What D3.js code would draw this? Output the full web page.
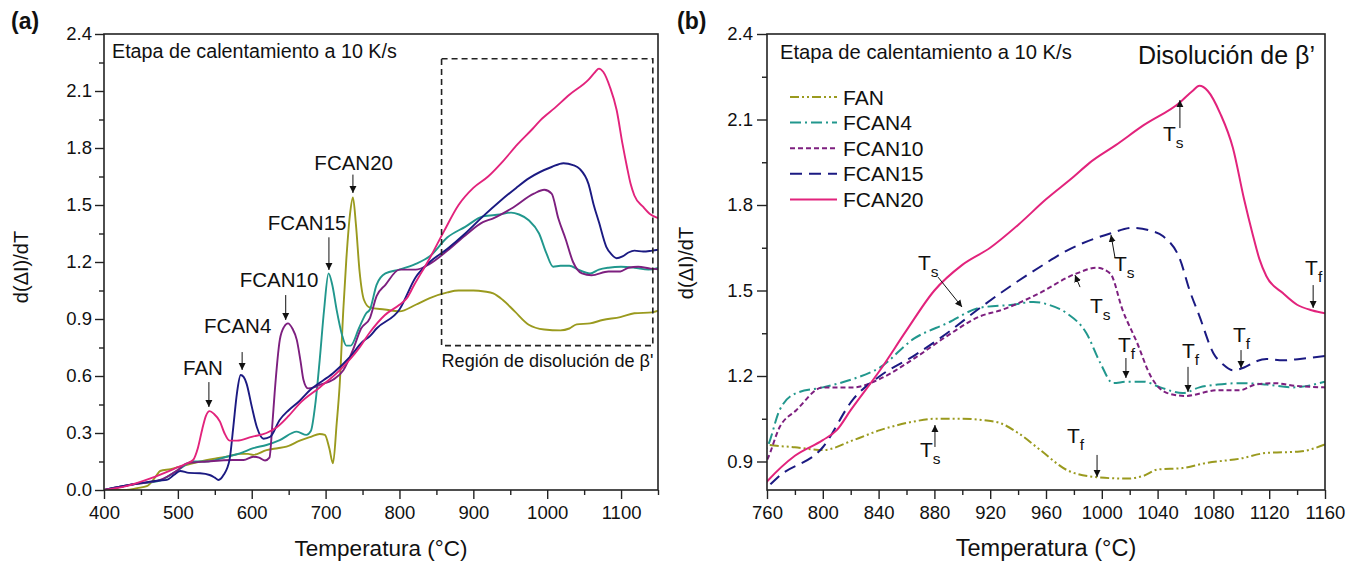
<!DOCTYPE html>
<html><head><meta charset="utf-8">
<script src="https://cdn.jsdelivr.net/npm/d3@7"></script>
<style>
body{margin:0;background:#fff}
svg{display:block}
text{font-family:"Liberation Sans",Arial,sans-serif;fill:#111}
</style>
</head><body>
<svg id="c" width="1358" height="562"></svg>
<script>
// ---------- data (temperature °C, d(ΔI)/dT) ----------
const FAN = [[400,0],[430,0],[445,0.01],[458,0.02],[470,0.07],[476,0.10],[490,0.11],[500,0.12],[515,0.135],[530,0.15],[550,0.165],[566,0.175],[584,0.19],[595,0.19],[602,0.185],[620,0.21],[635,0.22],[647,0.228],[665,0.26],[680,0.28],[692,0.295],[699,0.29],[705,0.22],[710,0.14],[715,0.35],[719,0.55],[724,0.95],[728,1.21],[733,1.45],[737,1.54],[741,1.40],[746,1.15],[752,1.0],[760,0.96],[780,0.95],[800,0.94],[822,0.975],[841,1.01],[865,1.04],[880,1.05],[900,1.05],[915,1.045],[927,1.035],[940,1.0],[956,0.94],[975,0.87],[996,0.845],[1018,0.84],[1030,0.85],[1040,0.872],[1058,0.877],[1075,0.895],[1099,0.91],[1118,0.93],[1142,0.935],[1160,0.96]];
const FCAN4 = [[400,0],[440,0.03],[476,0.05],[500,0.105],[521,0.15],[539,0.15],[566,0.175],[584,0.193],[602,0.22],[620,0.237],[638,0.263],[661,0.307],[674,0.29],[680,0.31],[686,0.45],[692,0.684],[698,0.95],[704,1.14],[709,1.08],[715,0.947],[722,0.82],[728,0.76],[734,0.76],[745,0.85],[755,0.93],[760,0.95],[769,1.08],[781,1.14],[800,1.16],[822,1.19],[841,1.23],[865,1.33],[889,1.385],[913,1.44],[936,1.45],[951,1.46],[962,1.45],[975,1.42],[989,1.35],[999,1.245],[1008,1.175],[1018,1.18],[1030,1.18],[1042,1.16],[1058,1.14],[1070,1.16],[1083,1.17],[1100,1.175],[1118,1.17],[1137,1.16],[1160,1.18]];
const FCAN10 = [[400,0],[440,0.03],[476,0.053],[500,0.105],[512,0.14],[539,0.15],[575,0.158],[589,0.158],[602,0.175],[610,0.17],[618,0.155],[624,0.17],[628,0.35],[631,0.51],[638,0.79],[644,0.86],[649,0.877],[655,0.85],[661,0.79],[666,0.68],[670,0.58],[676,0.535],[684,0.54],[692,0.553],[710,0.58],[724,0.63],[737,0.737],[748,0.85],[760,0.905],[769,1.02],[781,1.08],[800,1.16],[822,1.16],[841,1.19],[865,1.26],[889,1.34],[913,1.41],[927,1.43],[951,1.48],[982,1.56],[996,1.58],[1006,1.56],[1015,1.43],[1025,1.32],[1035,1.20],[1047,1.14],[1060,1.13],[1083,1.15],[1099,1.15],[1110,1.17],[1123,1.175],[1140,1.165],[1160,1.16]];
const FCAN15 = [[400,0],[440,0.03],[462,0.044],[475,0.05],[485,0.053],[495,0.08],[503,0.10],[515,0.09],[530,0.088],[543,0.079],[550,0.065],[555,0.053],[562,0.08],[570,0.16],[575,0.33],[580,0.51],[585,0.605],[589,0.595],[593,0.56],[600,0.44],[607,0.33],[616,0.27],[625,0.28],[638,0.37],[650,0.42],[665,0.47],[679,0.526],[710,0.614],[733,0.70],[750,0.78],[760,0.81],[769,0.85],[800,0.95],[822,1.12],[841,1.20],[865,1.27],[889,1.35],[913,1.44],[936,1.52],[958,1.59],[975,1.64],[1006,1.70],[1022,1.72],[1035,1.71],[1044,1.69],[1056,1.61],[1063,1.50],[1070,1.41],[1080,1.28],[1087,1.24],[1094,1.22],[1102,1.23],[1110,1.25],[1118,1.26],[1130,1.255],[1142,1.26],[1160,1.27]];
const FCAN20 = [[400,0],[430,0.02],[462,0.06],[500,0.12],[515,0.145],[521,0.16],[527,0.22],[533,0.32],[538,0.39],[543,0.415],[549,0.40],[557,0.36],[563,0.30],[570,0.26],[580,0.26],[600,0.28],[620,0.30],[634,0.33],[650,0.39],[665,0.456],[692,0.54],[719,0.63],[746,0.75],[760,0.83],[780,0.92],[800,0.975],[810,1.01],[820,1.08],[841,1.22],[860,1.36],[880,1.50],[900,1.59],[920,1.65],[940,1.73],[960,1.82],[980,1.90],[991,1.947],[1010,2.01],[1030,2.08],[1056,2.16],[1065,2.2],[1070,2.218],[1076,2.20],[1085,2.12],[1094,2.00],[1102,1.82],[1108,1.70],[1113,1.61],[1118,1.55],[1130,1.49],[1140,1.45],[1151,1.43],[1160,1.42]];

const seriesNames = ["FAN","FCAN4","FCAN10","FCAN15","FCAN20"];
const seriesData = [FAN, FCAN4, FCAN10, FCAN15, FCAN20];
const seriesColors = ["#9a9a1e","#21978d","#7d1f7f","#1b1a82","#e2237c"];
const seriesDash = ["9,3,2,3,2,3","11,4,2,4","5,3","12,7",null];

const xTicksA = [400,500,600,700,800,900,1000,1100];
const xMinorA = [450,550,650,750,850,950,1050,1150];
const yTicksA = [0,0.3,0.6,0.9,1.2,1.5,1.8,2.1,2.4];
const yMinorA = [0.15,0.45,0.75,1.05,1.35,1.65,1.95,2.25];
const xTicksB = [760,800,840,880,920,960,1000,1040,1080,1120,1160];
const xMinorB = [780,820,860,900,940,980,1020,1060,1100,1140];
const yTicksB = [0.9,1.2,1.5,1.8,2.1,2.4];
const yMinorB = [1.05,1.35,1.65,1.95,2.25];

// peak labels of panel (a): text pos (T,v) and arrow (T, v1 -> v2)
const peakLabels = ["FAN","FCAN4","FCAN10","FCAN15","FCAN20"];
const peakText = [[534,0.605],[581,0.826],[637,1.068],[675,1.368],[738,1.684]];
const peakArrow = [[542,0.568,0.437],[587,0.726,0.632],[646,1.026,0.895],[704.5,1.33,1.158],[737,1.66,1.563]];
const regionBox = [857,1143,0.76,2.27];

// Ts / Tf labels of panel (b)
const tSubs = ["s","s","s","s","s","f","f","f","f","f"];
const tText = [[1043.9,2.025],[1008.7,1.568],[868.2,1.572],[991.5,1.421],[869.7,0.916],[1145.7,1.554],[1094,1.319],[1057.5,1.263],[1011.6,1.284],[975,0.965]];
const tArrows = [[1056,2.07,1056,2.168],[1009.5,1.614,1006.6,1.695],[882.6,1.547,899.8,1.442],[984.4,1.512,980.8,1.554],[880.4,0.951,880.4,1.028],[1151.5,1.519,1151.5,1.439],[1099.8,1.291,1099.8,1.228],[1061.8,1.232,1061.8,1.144],[1017.3,1.263,1017.3,1.193],[996.6,0.923,996.6,0.846]];

// ---------- drawing ----------
const svg = d3.select("#c");
const defs = svg.append("defs");
defs.append("marker").attr("id","ah").attr("viewBox","0 0 10 10").attr("refX",10).attr("refY",5)
  .attr("markerWidth",7).attr("markerHeight",8).attr("markerUnits","userSpaceOnUse").attr("orient","auto")
  .append("path").attr("d","M0,0 L10,5 L0,10 Z").attr("fill","#111");

const xa = d3.scaleLinear().domain([400,1150]).range([104,658]);
const ya = d3.scaleLinear().domain([0,2.4]).range([490,34]);
const xb = d3.scaleLinear().domain([760,1160]).range([767,1325]);
const yb = d3.scaleLinear().domain([0.8,2.4]).range([490,34]);

function fit(sel, target){
  const w = sel.node().getComputedTextLength();
  const fs = parseFloat(sel.attr("font-size"));
  sel.attr("font-size", (fs*target/w).toFixed(2));
  return sel;
}

function axes(x, y, xMaj, xMin, yMaj, yMin, yTick, yPad, id){
  const g = svg.append("g");
  const y0 = y.range()[0], x0 = x.range()[0];
  g.append("g").attr("transform",`translate(0,${y0})`).call(d3.axisBottom(x).tickValues(xMin).tickSize(5).tickFormat("").tickSizeOuter(0));
  g.append("g").attr("transform",`translate(0,${y0})`).call(d3.axisBottom(x).tickValues(xMaj).tickSize(9).tickPadding(7).tickFormat(d3.format("d")).tickSizeOuter(0));
  g.append("g").attr("transform",`translate(${x0},0)`).call(d3.axisLeft(y).tickValues(yMin).tickSize(5).tickFormat("").tickSizeOuter(0));
  g.append("g").attr("transform",`translate(${x0},0)`).call(d3.axisLeft(y).tickValues(yMaj).tickSize(yTick).tickPadding(yPad).tickFormat(d3.format(".1f")).tickSizeOuter(0));
  g.selectAll(".domain").remove();
  g.selectAll(".tick line").attr("stroke","#222").attr("stroke-width",1.4);
  g.selectAll(".tick text").attr("font-size",18.5).attr("font-family","Liberation Sans, Arial, sans-serif").attr("fill","#111");
  const [xl,xr] = x.range(), [yb0,yt] = y.range();
  defs.append("clipPath").attr("id",id).append("rect").attr("x",xl).attr("y",yt).attr("width",xr-xl).attr("height",yb0-yt);
  return g;
}
function frame(x,y){
  const [xl,xr] = x.range(), [yb0,yt] = y.range();
  svg.append("rect").attr("x",xl).attr("y",yt).attr("width",xr-xl).attr("height",yb0-yt)
    .attr("fill","none").attr("stroke","#222").attr("stroke-width",1.6);
}

// ===== Panel (a) =====
axes(xa, ya, xTicksA, xMinorA, yTicksA, yMinorA, 9, 3, "clipA");
const gA = svg.append("g").attr("clip-path","url(#clipA)");
seriesData.forEach((d,i)=>{
  gA.append("path").datum(d)
    .attr("d", d3.line().x(p=>xa(p[0])).y(p=>ya(p[1])).curve(d3.curveMonotoneX))
    .attr("fill","none").attr("stroke",seriesColors[i]).attr("stroke-width",1.9).attr("stroke-linejoin","round");
});
// dashed region
svg.append("rect").attr("x",xa(regionBox[0])).attr("y",ya(regionBox[3]))
  .attr("width",xa(regionBox[1])-xa(regionBox[0])).attr("height",ya(regionBox[2])-ya(regionBox[3]))
  .attr("fill","none").attr("stroke","#222").attr("stroke-width",1.6).attr("stroke-dasharray","6,4");
fit(svg.append("text").attr("x",xa(regionBox[0])).attr("y",ya(regionBox[2])+21).attr("font-size",16)
  .text("Región de disolución de β'"), 212);
frame(xa, ya);
// peak labels
peakLabels.forEach((t,i)=>{
  svg.append("text").attr("x",xa(peakText[i][0])).attr("y",ya(peakText[i][1])).attr("text-anchor","middle")
    .attr("font-size",20.5).text(t);
  svg.append("line").attr("x1",xa(peakArrow[i][0])).attr("x2",xa(peakArrow[i][0]))
    .attr("y1",ya(peakArrow[i][1])).attr("y2",ya(peakArrow[i][2]))
    .attr("stroke","#111").attr("stroke-width",1).attr("marker-end","url(#ah)");
});
fit(svg.append("text").attr("x",112).attr("y",58).attr("font-size",15).attr("font-family","DejaVu Sans, sans-serif")
  .text("Etapa de calentamiento a 10 K/s"), 285);
svg.append("text").attr("x",381).attr("y",556).attr("text-anchor","middle").attr("font-size",22.5).text("Temperatura (°C)");
svg.append("text").attr("transform","translate(28,267) rotate(-90)").attr("text-anchor","middle").attr("font-size",20).text("d(ΔI)/dT");
svg.append("text").attr("x",11).attr("y",29).attr("font-size",23).attr("font-weight","bold").text("(a)");

// ===== Panel (b) =====
axes(xb, yb, xTicksB, xMinorB, yTicksB, yMinorB, 10, 4, "clipB");
const gB = svg.append("g").attr("clip-path","url(#clipB)");
seriesData.forEach((d,i)=>{
  gB.append("path").datum(d)
    .attr("d", d3.line().x(p=>xb(p[0])).y(p=>yb(p[1])).curve(d3.curveMonotoneX))
    .attr("fill","none").attr("stroke",seriesColors[i]).attr("stroke-width",2)
    .attr("stroke-dasharray",seriesDash[i]);
});
frame(xb, yb);
// legend
seriesNames.forEach((n,i)=>{
  const yy = 97 + i*25.6;
  svg.append("line").attr("x1",790).attr("x2",837).attr("y1",yy).attr("y2",yy)
    .attr("stroke",seriesColors[i]).attr("stroke-width",2).attr("stroke-dasharray",seriesDash[i]);
  svg.append("text").attr("x",843).attr("y",yy+7.5).attr("font-size",21).text(n);
});
// Ts/Tf
tSubs.forEach((s,i)=>{
  const t = svg.append("text").attr("x",xb(tText[i][0])).attr("y",yb(tText[i][1])).attr("font-size",21);
  t.append("tspan").text("T");
  t.append("tspan").attr("dy",7).attr("font-size",15.5).text(s);
  const a = tArrows[i];
  svg.append("line").attr("x1",xb(a[0])).attr("y1",yb(a[1])).attr("x2",xb(a[2])).attr("y2",yb(a[3]))
    .attr("stroke","#111").attr("stroke-width",1).attr("marker-end","url(#ah)");
});
fit(svg.append("text").attr("x",780).attr("y",59).attr("font-size",15).attr("font-family","DejaVu Sans, sans-serif")
  .text("Etapa de calentamiento a 10 K/s"), 292);
fit(svg.append("text").attr("x",1138).attr("y",64).attr("font-size",21).attr("font-family","DejaVu Sans, sans-serif")
  .text("Disolución de β’"), 177);
svg.append("text").attr("x",1046).attr("y",556).attr("text-anchor","middle").attr("font-size",23.5).text("Temperatura (°C)");
svg.append("text").attr("transform","translate(693,263) rotate(-90)").attr("text-anchor","middle").attr("font-size",20).text("d(ΔI)/dT");
svg.append("text").attr("x",677).attr("y",29).attr("font-size",23).attr("font-weight","bold").text("(b)");
</script>
</body></html>
